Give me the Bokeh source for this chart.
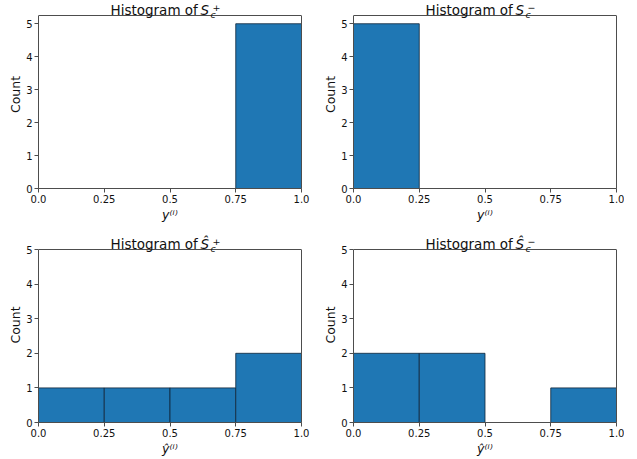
from bokeh.plotting import figure
from bokeh.layouts import column, row
from bokeh.models import Range1d, FixedTicker, Label, ColumnDataSource, LinearAxis, Span
from bokeh.embed import file_html
from bokeh.resources import INLINE

# ---- data ----
bin_edges = [0.0, 0.25, 0.5, 0.75, 1.0]
counts_sc_plus = [0, 0, 0, 5]
counts_sc_minus = [5, 0, 0, 0]
counts_hat_sc_plus = [1, 1, 1, 2]
counts_hat_sc_minus = [2, 2, 0, 1]
x_ticks = [0.0, 0.25, 0.5, 0.75, 1.0]
x_tick_labels = ["0.0", "0.25", "0.5", "0.75", "1.0"]
y_ticks = [0, 1, 2, 3, 4, 5]
titles = ["Histogram of", "Histogram of", "Histogram of", "Histogram of"]

FONT = "DejaVu Sans"
BAR = "#1f77b4"
SPINE = "#4d4d4d"
TXT = "#111111"
FW = 263          # plot box width
PH = 173          # plot box height


def make_hist(counts, title, letter, sign, xlabel, ymax, th, right_border, bottom_border):
    # the frame includes a title strip of height th above the plot box
    fh = PH + th
    y_end = ymax * fh / PH
    p = figure(title=None, output_backend="svg", toolbar_location=None,
               frame_width=FW, frame_height=fh,
               min_border_left=38, min_border_right=right_border,
               min_border_top=0, min_border_bottom=bottom_border,
               x_range=Range1d(0, 1), y_range=Range1d(0, y_end))
    src = ColumnDataSource(dict(left=bin_edges[:-1], right=bin_edges[1:],
                                top=counts, bottom=[0] * len(counts)))
    p.quad(left="left", right="right", top="top", bottom="bottom", source=src,
           fill_color=BAR, line_color="#10263a", line_alpha=0.8, line_width=1)
    p.xgrid.visible = False
    p.ygrid.visible = False
    p.outline_line_color = None
    p.background_fill_color = "white"
    p.border_fill_color = "white"

    for ax in (p.xaxis[0], p.yaxis[0]):
        ax.axis_line_color = SPINE
        ax.major_tick_line_color = SPINE
        ax.major_tick_out = 4
        ax.major_tick_in = 0
        ax.minor_tick_line_color = None
        ax.major_label_text_font = FONT
        ax.major_label_text_font_size = "10px"
        ax.major_label_text_color = TXT
        ax.major_label_standoff = 2
        ax.axis_label_text_font = FONT
        ax.axis_label_text_font_size = "12.5px"
        ax.axis_label_text_color = TXT
    p.xaxis[0].ticker = FixedTicker(ticks=x_ticks)
    p.xaxis[0].major_label_overrides = {t: l for t, l in zip(x_ticks, x_tick_labels)}
    p.xaxis[0].axis_label = xlabel
    p.xaxis[0].axis_label_text_font_style = "italic"
    p.xaxis[0].axis_label_standoff = 1
    p.yaxis[0].ticker = FixedTicker(ticks=y_ticks)
    p.yaxis[0].bounds = (0, ymax)
    p.yaxis[0].axis_label = "Count"
    p.yaxis[0].axis_label_text_font_style = "normal"
    p.yaxis[0].axis_label_standoff = 0

    # right spine
    rax = LinearAxis(ticker=FixedTicker(ticks=[]), bounds=(0, ymax),
                     axis_line_color=SPINE, major_tick_line_color=None,
                     minor_tick_line_color=None, major_label_text_color=None)
    p.add_layout(rax, "right")
    # top spine
    p.add_layout(Span(location=ymax, dimension="width", line_color=SPINE, line_width=1))

    # title composed of pieces (mathtext-like), placed in the title strip
    x0 = 72
    kw = dict(x_units="screen", y_units="screen", text_color=TXT,
              text_align="left", text_baseline="alphabetic", text_font=FONT)
    p.add_layout(Label(x=x0, y=PH + 5.5, text=title, text_font_size="13.5px", **kw))
    p.add_layout(Label(x=x0 + 90, y=PH + 5.5, text=letter, text_font_size="13.5px",
                       text_font_style="italic", **kw))
    p.add_layout(Label(x=x0 + 100, y=PH + 1.5, text="c", text_font_size="9.5px",
                       text_font_style="italic", **kw))
    p.add_layout(Label(x=x0 + 102, y=PH + 8.5, text=sign, text_font_size="9.5px", **kw))
    return p


p1 = make_hist(counts_sc_plus, titles[0], "S", "+", "y⁽ⁱ⁾", 5.25, 15, 14, 39)
p2 = make_hist(counts_sc_minus, titles[1], "S", "−", "y⁽ⁱ⁾", 5.25, 15, 8, 39)
p3 = make_hist(counts_hat_sc_plus, titles[2], "Ŝ", "+", "ŷ⁽ⁱ⁾", 5, 22, 14, 35)
p4 = make_hist(counts_hat_sc_minus, titles[3], "Ŝ", "−", "ŷ⁽ⁱ⁾", 5, 22, 8, 35)

layout = column(row(p1, p2, spacing=0), row(p3, p4, spacing=0), spacing=0)

open("out.html", "w").write(file_html(layout, INLINE))
